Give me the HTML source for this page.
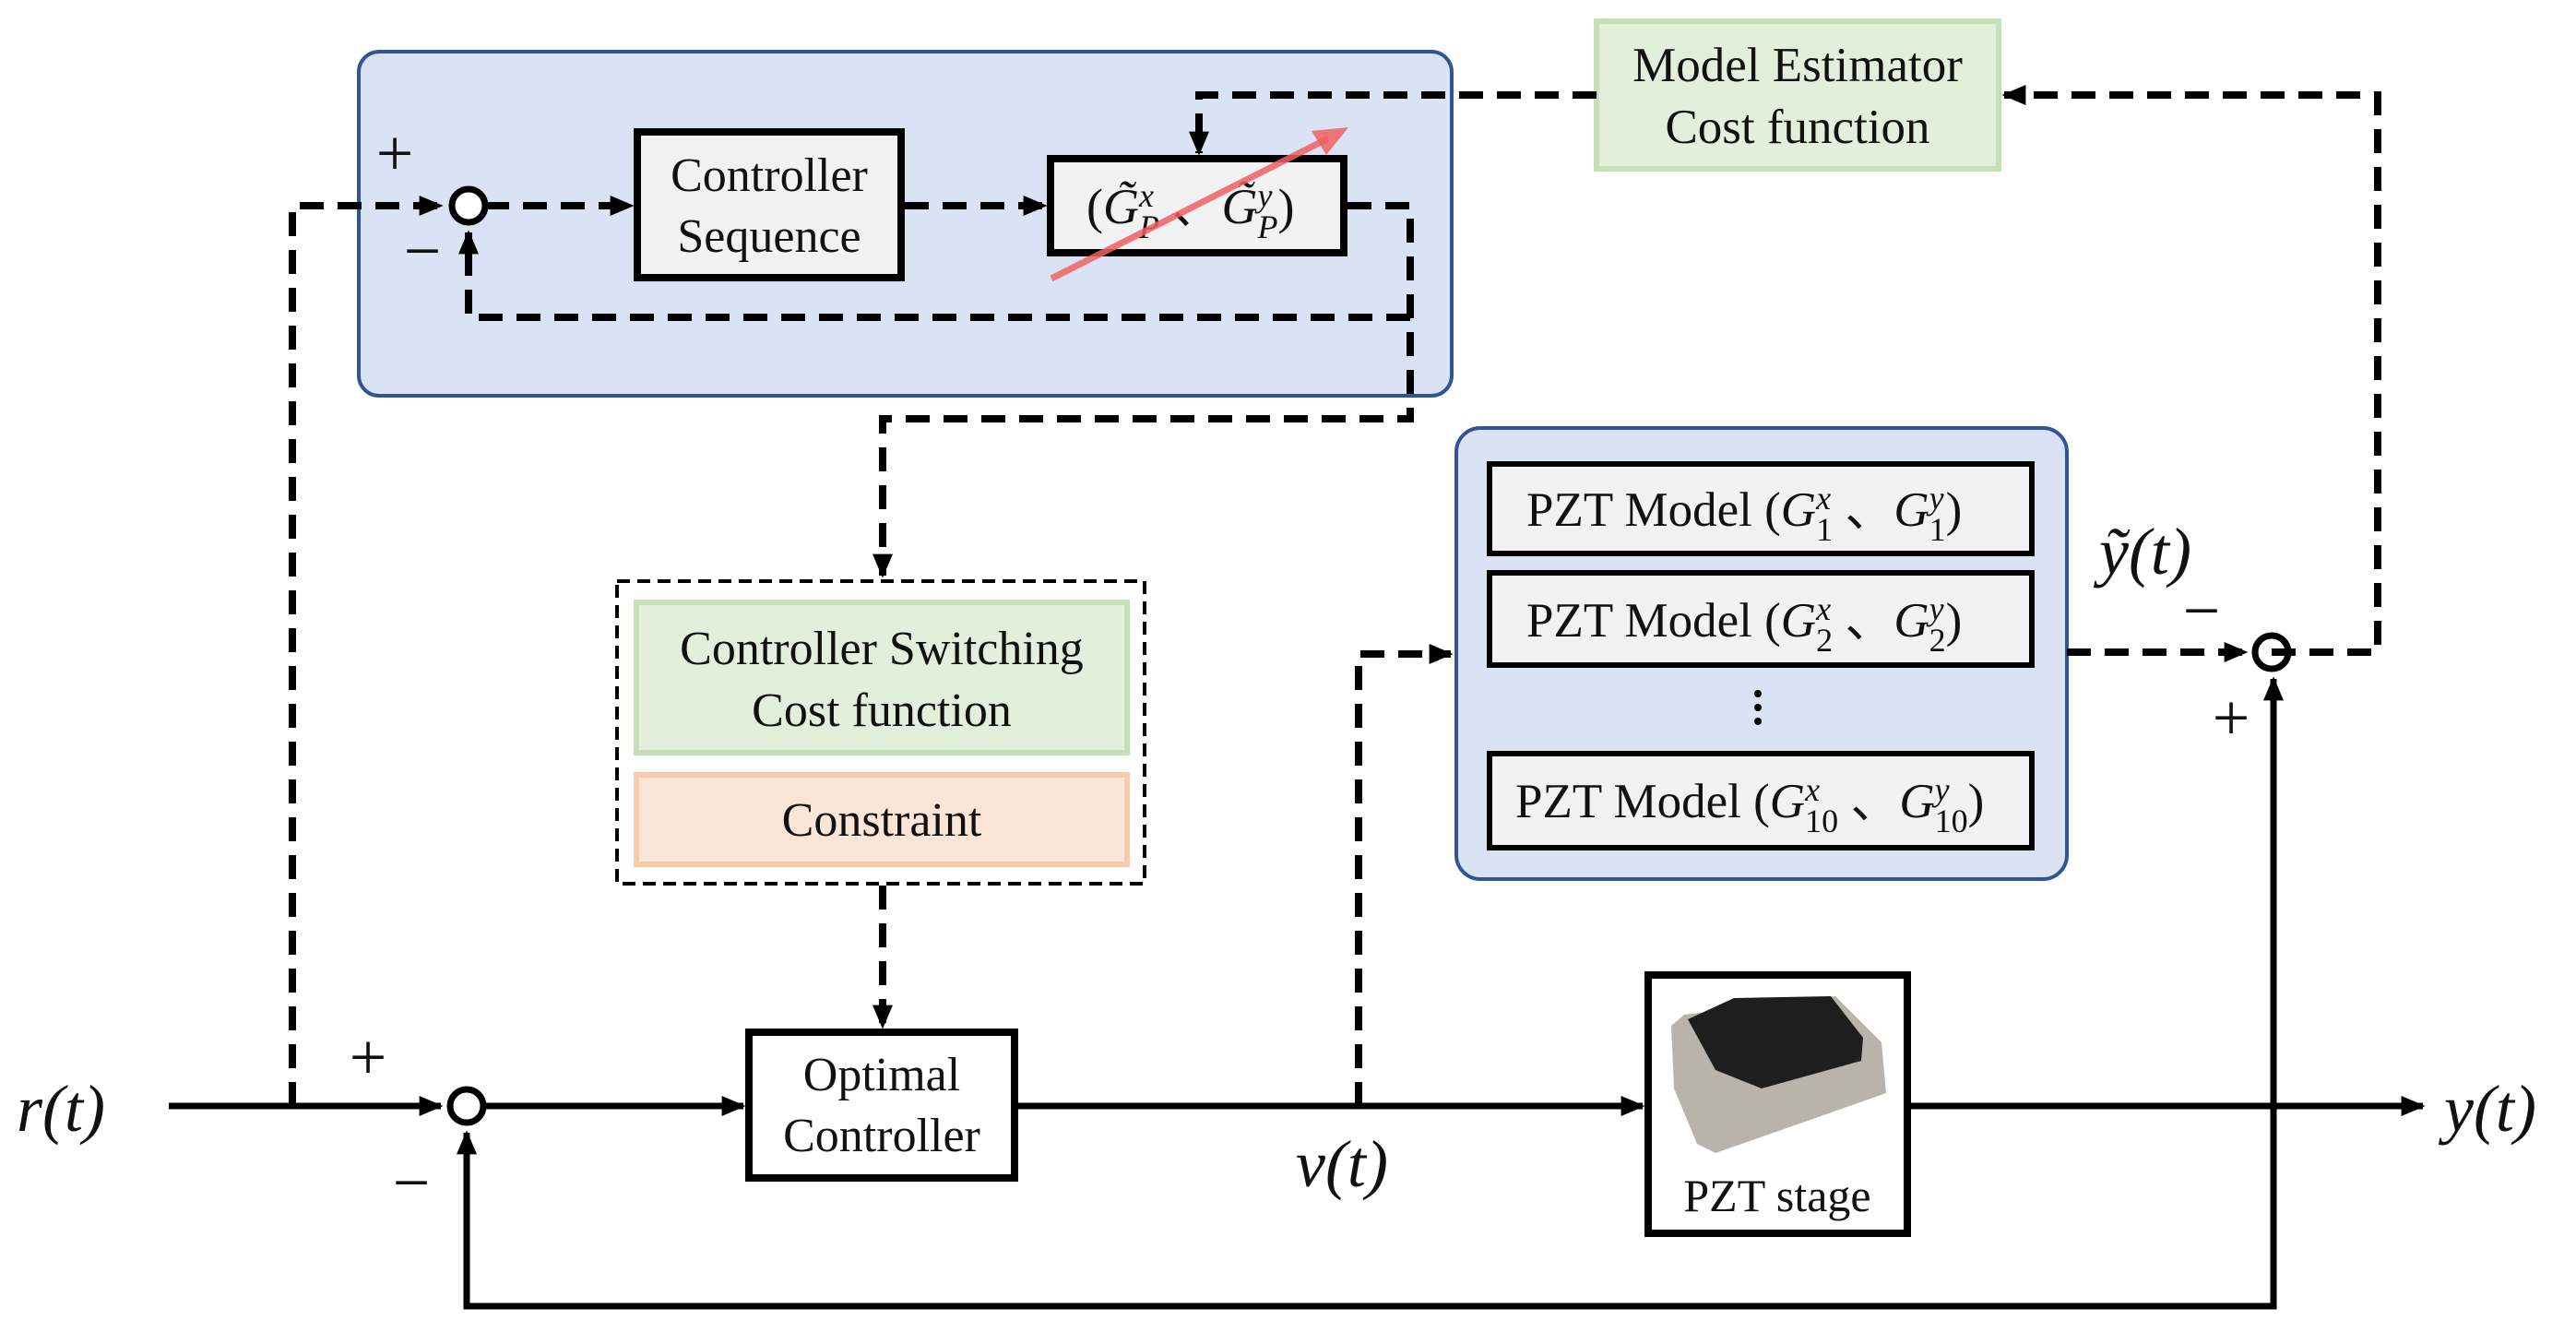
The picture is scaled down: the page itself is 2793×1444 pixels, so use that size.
<!DOCTYPE html>
<html><head><meta charset="utf-8"><style>
html,body{margin:0;padding:0;background:#fff;}
svg{display:block;}
text{font-family:"Liberation Serif",serif;fill:#111;}
.m{font-style:italic;}
</style></head><body>
<svg width="2793" height="1444" viewBox="0 0 2793 1444" xmlns="http://www.w3.org/2000/svg">
<defs>
<marker id="a" markerWidth="26" markerHeight="22" refX="9" refY="5" orient="auto" markerUnits="userSpaceOnUse" viewBox="0 0 10 10" preserveAspectRatio="none"><path d="M0,0 L10,5 L0,10 z" fill="#000"/></marker>
</defs>
<!-- top blue box -->
<rect x="389" y="56" width="1185" height="373" rx="22" fill="#dae3f3" stroke="#2f5597" stroke-width="4"/>
<!-- Model estimator -->
<rect x="1731" y="23" width="436" height="160" fill="#e2efda" stroke="#c5e0b4" stroke-width="6"/>
<text x="1949" y="88" font-size="53" text-anchor="middle">Model Estimator</text>
<text x="1949" y="155" font-size="53" text-anchor="middle">Cost function</text>
<!-- PZT blue box -->
<rect x="1579" y="464" width="662" height="489" rx="26" fill="#dae3f3" stroke="#2f5597" stroke-width="4"/>
<g stroke="#000" stroke-width="6" fill="#f2f2f2">
<rect x="1615" y="503" width="588" height="97"/>
<rect x="1615" y="621" width="588" height="100"/>
<rect x="1615" y="817" width="588" height="102"/>
</g>
<g font-size="53">
<text x="1655" y="570">PZT Model (<tspan class="m">G</tspan><tspan class="m" font-size="36" dy="-18">x</tspan><tspan font-size="36" dx="-16" dy="34">1</tspan><tspan dy="-16">  、</tspan><tspan class="m">G</tspan><tspan class="m" font-size="36" dy="-18">y</tspan><tspan font-size="36" dx="-16" dy="34">1</tspan><tspan dy="-16">)</tspan></text>
<text x="1655" y="690">PZT Model (<tspan class="m">G</tspan><tspan class="m" font-size="36" dy="-18">x</tspan><tspan font-size="36" dx="-16" dy="34">2</tspan><tspan dy="-16">  、</tspan><tspan class="m">G</tspan><tspan class="m" font-size="36" dy="-18">y</tspan><tspan font-size="36" dx="-16" dy="34">2</tspan><tspan dy="-16">)</tspan></text>
<text x="1643" y="886">PZT Model (<tspan class="m">G</tspan><tspan class="m" font-size="36" dy="-18">x</tspan><tspan font-size="36" dx="-16" dy="34">10</tspan><tspan dy="-16"> 、</tspan><tspan class="m">G</tspan><tspan class="m" font-size="36" dy="-18">y</tspan><tspan font-size="36" dx="-16" dy="34">10</tspan><tspan dy="-16">)</tspan></text>
</g>
<g fill="#000"><circle cx="1906" cy="752" r="4"/><circle cx="1906" cy="767" r="4"/><circle cx="1906" cy="782" r="4"/></g>
<!-- dashed group box -->
<rect x="669" y="630" width="572" height="328" fill="none" stroke="#000" stroke-width="4" stroke-dasharray="14 8"/>
<rect x="690" y="653" width="532" height="163" fill="#e2efda" stroke="#c5e0b4" stroke-width="6"/>
<rect x="690" y="840" width="532" height="97" fill="#fbe5d6" stroke="#f8cbad" stroke-width="6"/>
<text x="956" y="720" font-size="52" text-anchor="middle">Controller  Switching</text>
<text x="956" y="787" font-size="52" text-anchor="middle">Cost function</text>
<text x="956" y="906" font-size="52" text-anchor="middle">Constraint</text>
<!-- Controller Sequence -->
<rect x="691" y="143" width="286" height="158" fill="#f2f2f2" stroke="#000" stroke-width="8"/>
<text x="834" y="207" font-size="52" text-anchor="middle">Controller</text>
<text x="834" y="273" font-size="52" text-anchor="middle">Sequence</text>
<!-- G tilde box -->
<rect x="1139" y="172" width="318" height="102" fill="#f2f2f2" stroke="#000" stroke-width="8"/>
<text x="1178" y="242" font-size="54">(<tspan class="m">G̃</tspan><tspan class="m" font-size="36" dy="-18">x</tspan><tspan class="m" font-size="36" dx="-16" dy="34">P</tspan><tspan dy="-16">  、</tspan><tspan class="m">G̃</tspan><tspan class="m" font-size="36" dy="-18">y</tspan><tspan class="m" font-size="36" dx="-16" dy="34">P</tspan><tspan dy="-16">)</tspan></text>
<line x1="1140" y1="302" x2="1440" y2="150" stroke="#f06060" stroke-opacity="0.85" stroke-width="7"/>
<polygon points="1462,138 1422,142 1438,168" fill="#f06060" fill-opacity="0.85"/>
<!-- Optimal controller -->
<rect x="812" y="1119" width="288" height="158" fill="#fff" stroke="#000" stroke-width="8"/>
<text x="956" y="1182" font-size="52" text-anchor="middle">Optimal</text>
<text x="956" y="1248" font-size="52" text-anchor="middle">Controller</text>
<!-- PZT stage -->
<rect x="1787" y="1057" width="281" height="280" fill="#fff" stroke="#000" stroke-width="8"/>
<polygon points="1812,1112 1826,1100 1990,1080 2040,1130 2045,1185 1960,1215 1860,1250 1840,1240 1815,1180" fill="#b8b4ac"/>
<polygon points="1830,1105 1880,1082 1985,1080 2020,1125 2018,1150 1910,1180 1860,1160" fill="#1e1e1e"/>
<text x="1927" y="1313" font-size="50" text-anchor="middle">PZT stage</text>
<!-- summing junctions -->
<g fill="#fff" stroke="#000" stroke-width="7">
<circle cx="508" cy="223" r="18"/>
<circle cx="506" cy="1199" r="18"/>
<circle cx="2463" cy="707" r="18"/>
</g>
<!-- solid lines -->
<g stroke="#000" stroke-width="7" fill="none">
<line x1="183" y1="1199" x2="478" y2="1199" marker-end="url(#a)"/>
<line x1="524" y1="1199" x2="806" y2="1199" marker-end="url(#a)"/>
<line x1="1104" y1="1199" x2="1781" y2="1199" marker-end="url(#a)"/>
<line x1="2072" y1="1199" x2="2627" y2="1199" marker-end="url(#a)"/>
<polyline points="2465,1199 2465,1416 506,1416 506,1228" marker-end="url(#a)"/>
<line x1="2465" y1="1199" x2="2465" y2="736" marker-end="url(#a)"/>
</g>
<!-- dashed lines -->
<g stroke="#000" stroke-width="8" fill="none" stroke-dasharray="26 15">
<polyline points="317,1199 317,223 478,223" marker-end="url(#a)"/>
<line x1="526" y1="223" x2="685" y2="223" marker-end="url(#a)"/>
<line x1="981" y1="223" x2="1133" y2="223" marker-end="url(#a)"/>
<polyline points="1461,223 1529,223 1529,454 957,454 957,624" marker-end="url(#a)"/>
<polyline points="1529,344 508,344 508,252" marker-end="url(#a)"/>
<polyline points="1731,103 1300,103 1300,166" marker-end="url(#a)"/>
<polyline points="2463,707 2578,707 2578,103 2173,103" marker-end="url(#a)"/>
<line x1="2241" y1="707" x2="2435" y2="707" marker-end="url(#a)"/>
<polyline points="1473,1199 1473,709 1573,709" marker-end="url(#a)"/>
<line x1="957" y1="960" x2="957" y2="1113" marker-end="url(#a)"/>
</g>
<!-- signs -->
<g font-size="72" text-anchor="middle">
<text x="428" y="190">+</text>
<text x="458" y="296">−</text>
<text x="399" y="1170">+</text>
<text x="446" y="1306">−</text>
<text x="2387" y="686">−</text>
<text x="2419" y="802">+</text>
</g>
<!-- signal labels -->
<g font-size="72" class="m">
<text x="18" y="1226">r(t)</text>
<text x="1405" y="1286">v(t)</text>
<text x="2650" y="1226">y(t)</text>
<text x="2276" y="622">ỹ(t)</text>
</g>
</svg>
</body></html>
